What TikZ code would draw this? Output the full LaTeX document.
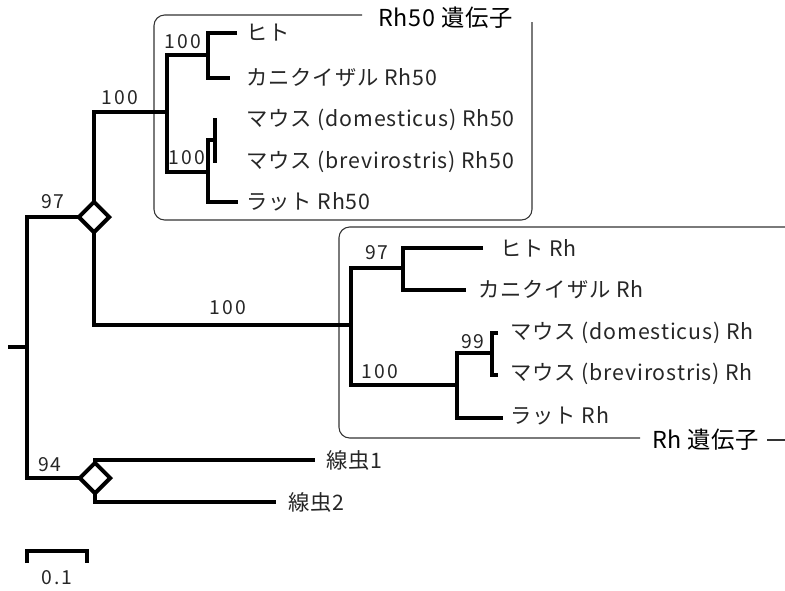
\documentclass[tikz,border=0pt]{standalone}
\usepackage{fontspec}
\setmainfont{Noto Sans CJK JP}
\usetikzlibrary{shapes.geometric}
\begin{document}
\begin{tikzpicture}[x=0.75pt,y=-0.75pt,
  branch/.style={line width=2.4pt,line join=miter},
  boxline/.style={line width=0.8pt,black!80,rounded corners=8pt},
  dia/.style={draw,diamond,line width=3pt,inner sep=0pt,minimum width=24pt,minimum height=24pt,fill=white},
  leaf/.style={anchor=west,inner sep=0pt,font=\fontsize{16}{18}\selectfont\addfontfeature{LetterSpace=4},text=black!85},
  boot/.style={inner sep=0pt,font=\fontsize{14.5}{16}\selectfont\addfontfeature{LetterSpace=10},text=black!85},
  title/.style={anchor=west,inner sep=0pt,font=\fontsize{17.5}{19}\selectfont\addfontfeature{LetterSpace=3}}]
\useasboundingbox (0,0) rectangle (785,590);

% boxes
\draw[boxline] (362,15) -- (154,15) -- (154,220) -- (532,220) -- (532,22);
\node[title] (t50) at (378,18) {Rh50 遺伝子};
\draw[boxline] (785,227) -- (339,227) -- (339,438) -- (640,438);
\node[title] (tRh) at (652,440) {Rh 遺伝子};
\coordinate (tr1) at (767,440);
\coordinate (tr2) at (785,440);
\draw[line width=0.8pt,black!80] (tr1) -- (tr2);

% coordinates
\coordinate (rootstub) at (8,347);
\coordinate (root) at (27,347);
\coordinate (B) at (167,112);
\coordinate (B1) at (208,55);
\coordinate (B2) at (208,172);
\coordinate (h50) at (237,33);
\coordinate (m50) at (230,78);
\coordinate (Mn50) at (215,140);
\coordinate (md50) at (215,118);
\coordinate (mb50) at (215,163);
\coordinate (r50) at (238,202);
\coordinate (C) at (351,325);
\coordinate (C1) at (403,268);
\coordinate (C2) at (457,385);
\coordinate (hRh) at (483,248);
\coordinate (mRh) at (466,290);
\coordinate (D) at (492,353);
\coordinate (mdRh) at (498,333);
\coordinate (mbRh) at (498,375);
\coordinate (rRh) at (503,418);
\coordinate (w1) at (315,460);
\coordinate (w2) at (276,502);

% branches
\draw[branch] (rootstub) -- (root);
\draw[branch] (94,217) -| (root) |- (95,478);
\draw[branch] (94,217) |- (B);
\draw[branch] (B1) -| (B) |- (B2);
\draw[branch] (h50) -| (B1) |- (m50);
\draw[branch] (Mn50) -| (B2) |- (r50);
\draw[branch] (md50) -- (mb50);
\draw[branch] (94,217) |- (C);
\draw[branch] (C1) -| (C) |- (C2);
\draw[branch] (hRh) -| (C1) |- (mRh);
\draw[branch] (D) -| (C2) |- (rRh);
\draw[branch] (mdRh) -| (D) |- (mbRh);
\draw[branch] (95,478) |- (w1);
\draw[branch] (95,478) |- (w2);

\node[dia] (A) at (94,217) {};
\node[dia] (N) at (95,478) {};

% leaf labels
\node[leaf] (l1) at (246,33) {ヒト};
\node[leaf] (l2) at (246,78) {カニクイザル Rh50};
\node[leaf] (l3) at (246,120) {マウス (domesticus) Rh50};
\node[leaf] (l4) at (246,162) {マウス (brevirostris) Rh50};
\node[leaf] (l5) at (246,202) {ラット Rh50};
\node[leaf] (l6) at (500,248) {ヒト Rh};
\node[leaf] (l7) at (478,290) {カニクイザル Rh};
\node[leaf] (l8) at (510,333) {マウス (domesticus) Rh};
\node[leaf] (l9) at (510,374) {マウス (brevirostris) Rh};
\node[leaf] (l10) at (510,416) {ラット Rh};
\node[leaf] (l11) at (326,460) {線虫1};
\node[leaf] (l12) at (288,502) {線虫2};

% bootstrap values
\node[boot] (b1) at (120,98) {100};
\node[boot] (b2) at (183,42) {100};
\node[boot] (b3) at (187,158) {100};
\node[boot] (b4) at (53,202) {97};
\node[boot] (b5) at (228,308) {100};
\node[boot] (b6) at (377,253) {97};
\node[boot] (b7) at (380,372) {100};
\node[boot] (b8) at (473,342) {99};
\node[boot] (b9) at (50,465) {94};

% scale bar
\coordinate (s1) at (27,563);
\coordinate (s2) at (87,563);
\draw[line width=2.6pt,line join=miter] (s1) -- (27,551) -- (87,551) -- (s2);
\node[boot] (sc) at (57,578) {0.1};
\end{tikzpicture}
\end{document}
